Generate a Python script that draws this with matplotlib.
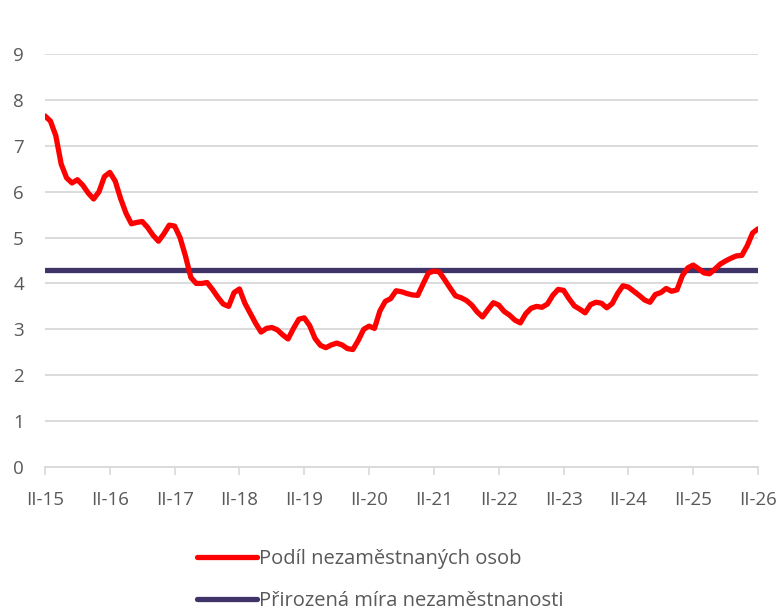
import matplotlib
matplotlib.use("Agg")
import matplotlib.pyplot as plt
import numpy as np

# Monthly data, II-2015 .. II-2026
unemp_share = [
    7.65, 7.54, 7.22, 6.60, 6.30, 6.19, 6.26, 6.14, 5.97, 5.84, 6.00, 6.33,
    6.42, 6.23, 5.85, 5.53, 5.30, 5.33, 5.35, 5.22, 5.05, 4.92, 5.08, 5.27,
    5.25, 5.00, 4.60, 4.13, 4.00, 4.00, 4.02, 3.87, 3.70, 3.55, 3.50, 3.80,
    3.88, 3.57, 3.35, 3.13, 2.94, 3.02, 3.04, 2.99, 2.88, 2.79, 3.02, 3.22,
    3.25, 3.08, 2.80, 2.65, 2.60, 2.66, 2.70, 2.66, 2.58, 2.56, 2.76, 3.00,
    3.07, 3.02, 3.40, 3.61, 3.67, 3.84, 3.82, 3.78, 3.75, 3.74, 3.99, 4.23,
    4.27, 4.25, 4.08, 3.90, 3.73, 3.69, 3.63, 3.53, 3.38, 3.27, 3.43, 3.58,
    3.53, 3.39, 3.31, 3.20, 3.14, 3.34, 3.46, 3.50, 3.48, 3.55, 3.74, 3.87,
    3.85, 3.67, 3.51, 3.44, 3.36, 3.54, 3.59, 3.57, 3.47, 3.56, 3.78, 3.95,
    3.92, 3.83, 3.74, 3.64, 3.59, 3.76, 3.80, 3.89, 3.83, 3.86, 4.17, 4.34,
    4.40, 4.32, 4.23, 4.21, 4.31, 4.42, 4.49, 4.55, 4.60, 4.61, 4.82, 5.10,
    5.19,
]
natural_rate = 4.3
tick_labels = ["II-15", "II-16", "II-17", "II-18", "II-19", "II-20", "II-21",
               "II-22", "II-23", "II-24", "II-25", "II-26"]
series_names = ["Podíl nezaměstnaných osob", "Přirozená míra nezaměstnanosti"]

plt.rcParams['font.family'] = ['Open Sans', 'DejaVu Sans']
txt = "#595959"
grid = "#d9d9d9"

fig = plt.figure(figsize=(7.8, 6.1), dpi=100)
ax = fig.add_axes([45/780, 1-467/610, (758-45)/780, (467-54)/610])

x = np.arange(len(unemp_share))
ax.plot(x, unemp_share, color="#ff0000", lw=3.8, solid_joinstyle="round",
        solid_capstyle="round", label=series_names[0], zorder=3)
ax.plot(x, [natural_rate]*len(x), color="#403368", lw=3.8,
        solid_capstyle="round", label=series_names[1], zorder=2)

ax.set_xlim(0, len(x)-1)
ax.set_ylim(0, 9)
ax.set_yticks(range(0, 10))
ax.yaxis.grid(True, color=grid, lw=1.3)
ax.set_axisbelow(True)
ax.tick_params(axis='y', length=0, pad=19, labelsize=13.5, labelcolor=txt)
for t in ax.get_yticklabels():
    t.set_horizontalalignment('center')
ax.set_xticks(np.arange(0, len(x), 12))
ax.set_xticklabels(tick_labels)
ax.tick_params(axis='x', length=6, width=1.2, color=grid, pad=11,
               labelsize=13.5, labelcolor=txt)
for s in ["top", "right", "left"]:
    ax.spines[s].set_visible(False)
ax.spines["bottom"].set_color(grid)
ax.spines["bottom"].set_linewidth(1.3)

leg = fig.legend(loc="upper left", bbox_to_anchor=(197/780, 1-549/610),
                 frameon=False, fontsize=14.5, handlelength=3.0,
                 handletextpad=0.1, labelspacing=1.1, borderpad=0,
                 borderaxespad=0)
for t in leg.get_texts():
    t.set_color(txt)

fig.savefig("out.png", dpi=100)
